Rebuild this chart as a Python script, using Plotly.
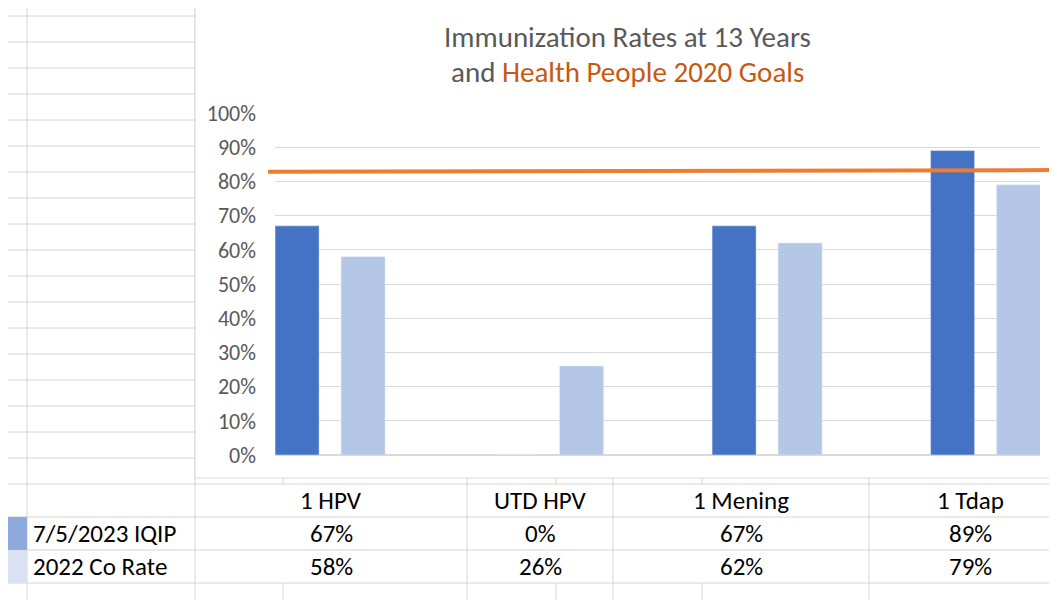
import plotly.graph_objects as go

W, H = 1057, 600
OFF = 8   # the page body adds 8px on the left and top

## data
categories = ['1 HPV', 'UTD HPV', '1 Mening', '1 Tdap']
iqip_2023 = [0.67, 0.00, 0.67, 0.89]
co_rate_2022 = [0.58, 0.26, 0.62, 0.79]
series_names = ['7/5/2023 IQIP', '2022 Co Rate']
goal_line = [0.828, 0.833]   # Healthy People 2020 goal, drawn across the chart
y_ticks = [0, 0.1, 0.2, 0.3, 0.4, 0.5, 0.6, 0.7, 0.8, 0.9, 1.0]

FONT = 'Calibri, Carlito, Lato, sans-serif'
GRID = '#D4D4D4'

# page pixel -> paper helpers (margins are zero)
def px(x):
    return (x - OFF) / W

def py(y):
    return 1 - (y - OFF) / H

def hline(y, x0, x1, color=GRID):
    return dict(type='line', xref='paper', yref='paper', x0=px(x0), x1=px(x1),
                y0=py(y), y1=py(y), line=dict(color=color, width=1), layer='below')

def vline(x, y0, y1, color=GRID):
    return dict(type='line', xref='paper', yref='paper', x0=px(x), x1=px(x),
                y0=py(y0), y1=py(y1), line=dict(color=color, width=1), layer='below')

shapes = []
## spreadsheet grid behind the chart
for k in range(19):
    shapes.append(hline(16 + 26 * k, 0, 195))
for y in [517, 550, 583]:
    shapes.append(hline(y, 0, W + OFF))
shapes.append(hline(484, 195, W + OFF))
shapes.append(vline(27, 0, H + OFF))
shapes.append(vline(195, 0, H + OFF))
for x in [283, 467, 556, 613, 702, 869]:
    shapes.append(vline(x, 0, 3))
for x in [467, 613, 869]:
    shapes.append(vline(x, 478, H + OFF))
for x in [283, 556, 702]:
    shapes.append(vline(x, 478, 484))
    shapes.append(vline(x, 583, H + OFF))
## legend colour cells
shapes.append(dict(type='rect', xref='paper', yref='paper', x0=px(0), x1=px(27), y0=py(550), y1=py(517),
                   fillcolor='#8EA9DB', line=dict(width=0), layer='below'))
shapes.append(dict(type='rect', xref='paper', yref='paper', x0=px(0), x1=px(27), y0=py(583), y1=py(550),
                   fillcolor='#D9E1F2', line=dict(width=0), layer='below'))
## chart area
shapes.append(dict(type='rect', xref='paper', yref='paper', x0=px(195), x1=px(W + 30), y0=py(478), y1=py(3),
                   fillcolor='white', line=dict(color='#D9D9D9', width=1), layer='below'))

fig = go.Figure()
fig.add_trace(go.Bar(x=categories, y=iqip_2023, name=series_names[0], marker_color='#4472C4'))
fig.add_trace(go.Bar(x=categories, y=co_rate_2022, name=series_names[1], marker_color='#B4C7E7'))
fig.add_trace(go.Scatter(x=[0, 1], y=goal_line, mode='lines', xaxis='x2', yaxis='y2',
                         line=dict(color='#ED7D31', width=4), hoverinfo='skip'))

annotations = []
## title
annotations.append(dict(text='Immunization Rates at 13 Years', x=px(627), y=py(37), xref='paper', yref='paper',
                        xanchor='center', yanchor='middle', showarrow=False,
                        font=dict(family=FONT, size=29, color='#595959')))
annotations.append(dict(text="and <span style='color:#C55A11'>Health People 2020 Goals</span>",
                        x=px(627), y=py(72), xref='paper', yref='paper', xanchor='center', yanchor='middle',
                        showarrow=False, font=dict(family=FONT, size=29, color='#595959')))
## data table
cell_centers = [331, 540, 741, 970]
rows = [iqip_2023, co_rate_2022]
row_y = [533.5, 566.5]
for i, cat in enumerate(categories):
    annotations.append(dict(text=cat, x=px(cell_centers[i]), y=py(500.5), xref='paper', yref='paper',
                            xanchor='center', yanchor='middle', showarrow=False,
                            font=dict(family=FONT, size=25, color='black')))
    for r, vals in enumerate(rows):
        annotations.append(dict(text=f'{vals[i]:.0%}', x=px(cell_centers[i]), y=py(row_y[r]),
                                xref='paper', yref='paper', xanchor='center', yanchor='middle',
                                showarrow=False, font=dict(family=FONT, size=25, color='black')))
for r, name in enumerate(series_names):
    annotations.append(dict(text=name, x=px(31), y=py(row_y[r]), xref='paper', yref='paper',
                            xanchor='left', yanchor='middle', showarrow=False,
                            font=dict(family=FONT, size=25, color='black')))

fig.update_layout(
    width=W, height=H,
    margin=dict(l=0, r=0, t=0, b=0, pad=0),
    paper_bgcolor='white',
    plot_bgcolor='rgba(0,0,0,0)',
    showlegend=False,
    barmode='group',
    bargap=0.396,
    bargroupgap=0.333,
    xaxis=dict(domain=[px(275), px(1040)], type='category', range=[-0.252, 3.249], automargin=False,
               showticklabels=False, showgrid=False, zeroline=False, showline=False, fixedrange=True),
    yaxis=dict(domain=[py(455), py(113)], range=[0, 1], tickvals=y_ticks, tickformat='.0%', automargin=False,
               gridcolor='#D9D9D9', zeroline=True, zerolinecolor='#D9D9D9', showline=False,
               ticklabelstandoff=18, tickfont=dict(family=FONT, size=22, color='#595959')),
    xaxis2=dict(domain=[px(268), px(1049)], range=[0, 1], visible=False, anchor='y2', automargin=False),
    yaxis2=dict(domain=[py(455), py(113)], range=[0, 1], visible=False, anchor='x2', automargin=False),
    shapes=shapes,
    annotations=annotations,
)

fig.write_html("out.html")
